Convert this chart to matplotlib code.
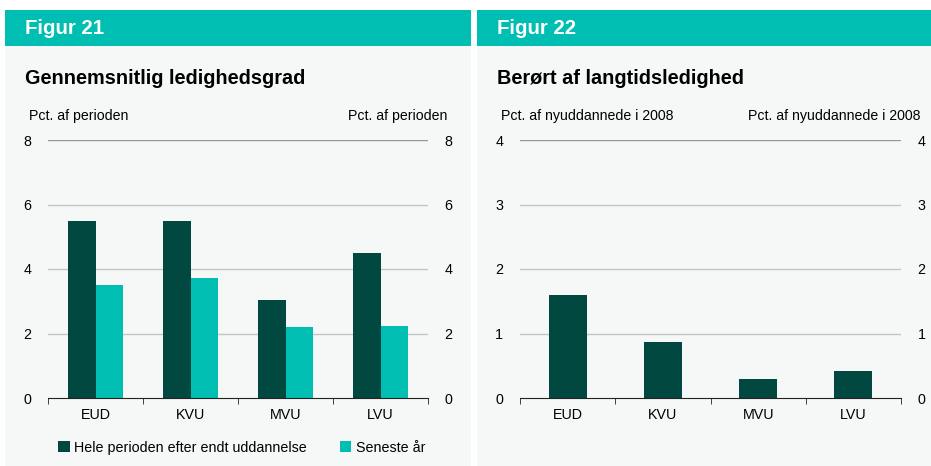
import numpy as np
import matplotlib.pyplot as plt
from matplotlib.patches import Rectangle

plt.rcParams['font.family'] = ['Liberation Sans', 'DejaVu Sans']

# Data
categories = ['EUD', 'KVU', 'MVU', 'LVU']
hele_perioden = [5.5, 5.5, 3.05, 4.5]
seneste_aar = [3.5, 3.72, 2.2, 2.22]
langtid = [1.6, 0.87, 0.29, 0.42]

DARK = '#004840'
TEAL = '#00bfb2'
PANEL = '#f6f8f8'
W, H = 931, 466

fig = plt.figure(figsize=(W / 100, H / 100), dpi=100)
fig.patch.set_facecolor('white')


def px(x, y, w, h):
    # pixel box (top-left origin) -> figure fraction
    return [x / W, 1 - (y + h) / H, w / W, h / H]


def panel(x0, x1, fig_title, title):
    b = px(x0, 46, x1 - x0, 420)
    fig.patches.append(Rectangle((b[0], b[1]), b[2], b[3], transform=fig.transFigure,
                                 facecolor=PANEL, edgecolor='none', zorder=-2))
    b = px(x0, 10, x1 - x0, 36)
    fig.patches.append(Rectangle((b[0], b[1]), b[2], b[3], transform=fig.transFigure,
                                 facecolor=TEAL, edgecolor='none', zorder=-2))
    fig.text((x0 + 20) / W, 1 - 29 / H, fig_title, color='white', fontsize=14.7,
             fontweight='bold', va='center')
    fig.text((x0 + 20) / W, 1 - 78 / H, title, color='black', fontsize=14.3,
             fontweight='bold', va='center')


def style_axes(ax, ymax, step, unit, unit_x0, unit_x1):
    ax.set_facecolor('none')
    ax.set_ylim(0, ymax)
    ax.set_xlim(-0.5, len(categories) - 0.5)
    ticks = np.arange(0, ymax + step / 2, step)
    ax.set_yticks(ticks)
    ax.set_yticklabels([f'{t:g}' for t in ticks])
    for t in ticks[1:]:
        ax.axhline(t, color='#999999' if t == ticks[-1] else '#c4c4c4', lw=1, zorder=0)
    for s in ['top', 'left', 'right']:
        ax.spines[s].set_visible(False)
    ax.spines['bottom'].set_color('#222222')
    ax.tick_params(axis='y', length=0, labelsize=10.3, pad=12,
                   labelleft=True, labelright=True)
    ax.set_xticks(range(len(categories)))
    ax.set_xticklabels(categories)
    ax.tick_params(axis='x', which='major', length=0, labelsize=10.3, pad=7)
    ax.set_xticks(np.arange(-0.5, len(categories)), minor=True)
    ax.tick_params(axis='x', which='minor', length=4, color='#222222', direction='out')
    fig.text(unit_x0 / W, 1 - 116 / H, unit, fontsize=10.2, va='center', ha='left')
    fig.text(unit_x1 / W, 1 - 116 / H, unit, fontsize=10.2, va='center', ha='right')


# Figur 21
panel(5, 471, 'Figur 21', 'Gennemsnitlig ledighedsgrad')
ax1 = fig.add_axes(px(48, 140, 380, 258))
x = np.arange(len(categories))
bw = 0.29
ax1.bar(x - bw / 2, hele_perioden, bw, color=DARK, zorder=2,
        label='Hele perioden efter endt uddannelse')
ax1.bar(x + bw / 2, seneste_aar, bw, color=TEAL, zorder=2, label='Seneste år')
style_axes(ax1, 8, 2, 'Pct. af perioden', 29, 447)
ax1.legend(loc='upper center', bbox_to_anchor=(0.51, -0.115), ncol=2, frameon=False,
           fontsize=10.3, handlelength=0.8, handleheight=0.8, handletextpad=0.3,
           columnspacing=2.3)

# Figur 22
panel(477, 931, 'Figur 22', 'Berørt af langtidsledighed')
ax2 = fig.add_axes(px(520, 140, 381, 258))
ax2.bar(x, langtid, 0.4, color=DARK, zorder=2)
style_axes(ax2, 4, 1, 'Pct. af nyuddannede i 2008', 501, 920)

fig.savefig('out.png', dpi=100)
